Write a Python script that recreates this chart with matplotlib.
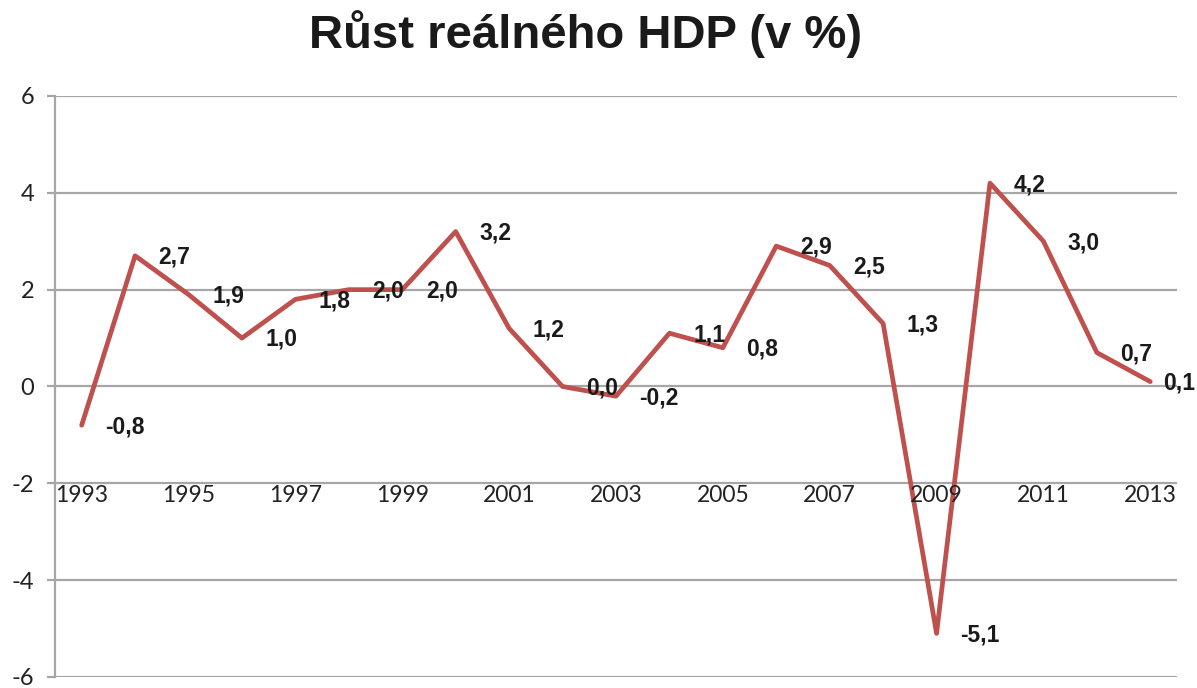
import matplotlib.pyplot as plt

# Data
years = list(range(1993, 2014))
growth = [-0.8, 2.7, 1.9, 1.0, 1.8, 2.0, 2.0, 3.2, 1.2, 0.0, -0.2,
          1.1, 0.8, 2.9, 2.5, 1.3, -5.1, 4.2, 3.0, 0.7, 0.1]
tick_years = list(range(1993, 2014, 2))
y_ticks = [-6, -4, -2, 0, 2, 4, 6]

fig = plt.figure(figsize=(11.97, 6.88), dpi=100)
ax = fig.add_axes([0.0459, 0.016, 0.9374, 0.8445])

# Grid lines
for t in y_ticks:
    ax.axhline(t, color='#a6a6a6', lw=1.6, zorder=1)

# Line
ax.plot(years, growth, color='#c0504d', lw=3.4, solid_joinstyle='round',
        solid_capstyle='round', zorder=3)

# Data labels (comma as decimal separator); last one pulled in so it fits
for i, (x, v) in enumerate(zip(years, growth)):
    label = f"{v:.1f}".replace('.', ',')
    dx = 17 if i < len(years) - 1 else 9
    ax.annotate(label, (x, v), xytext=(dx, -1), textcoords='offset points',
                ha='left', va='center', fontsize=16.5, fontweight='bold',
                family='Liberation Sans', color='#1a1a1a', zorder=4)

# Category labels sit just under the -2 grid line
for yr in tick_years:
    ax.annotate(str(yr), (yr, -2), xytext=(0, -1.5), textcoords='offset points',
                ha='center', va='top', fontsize=16.5, family='Lato',
                color='#222222')

ax.set_xlim(1992.5, 2013.5)
ax.set_ylim(-6, 6)
ax.set_yticks(y_ticks)
ax.set_yticklabels([str(t) for t in y_ticks], fontsize=17, family='Lato',
                   color='#222222')
ax.set_xticks([])
ax.tick_params(axis='y', length=6, width=1.6, color='#a6a6a6', pad=9)

for side in ['top', 'right', 'bottom']:
    ax.spines[side].set_visible(False)
ax.spines['left'].set_color('#a6a6a6')
ax.spines['left'].set_linewidth(1.6)
ax.patch.set_visible(False)

fig.suptitle('Růst reálného HDP (v %)', fontsize=34, fontweight='bold',
             family='Liberation Sans', color='#1a1a1a', x=0.489, y=0.985)

fig.savefig('out.png', dpi=100)
